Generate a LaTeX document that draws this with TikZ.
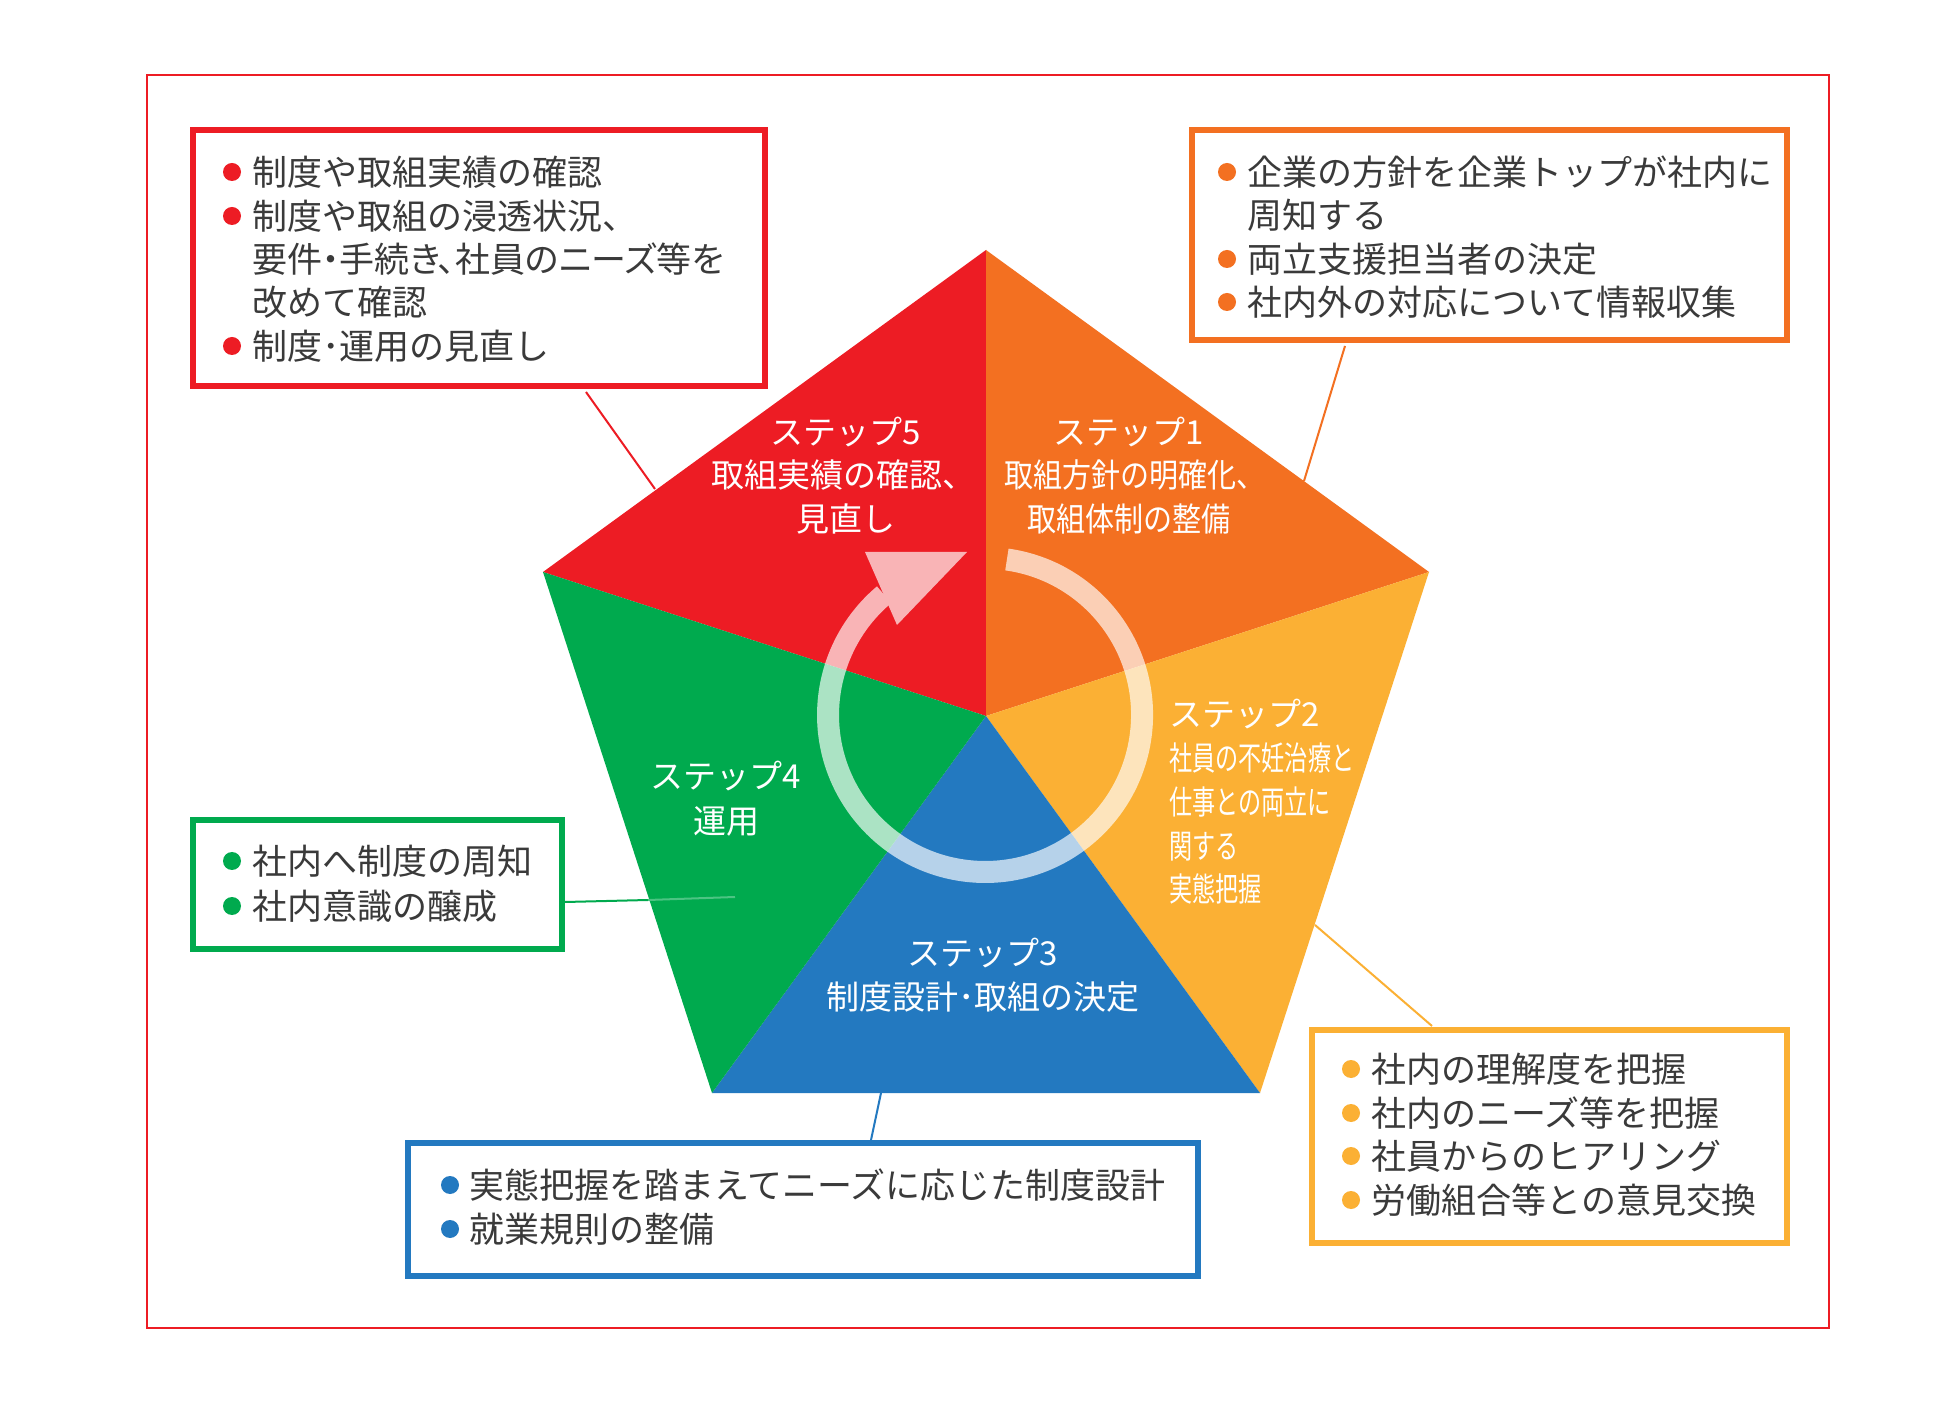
\documentclass[tikz,border=0pt]{standalone}
\usepackage{fontspec}
\newfontfamily\jpf{Noto Sans CJK JP}
\newfontfamily\jpp[RawFeature=+palt]{Noto Sans CJK JP}
\newfontfamily\jpn[FakeStretch=0.88]{Noto Sans CJK JP}
\newfontfamily\jpc[FakeStretch=0.70]{Noto Sans CJK JP}
\definecolor{cred}{HTML}{ED1C24}
\definecolor{corange}{HTML}{F37021}
\definecolor{cyellow}{HTML}{FBB034}
\definecolor{cblue}{HTML}{2379C0}
\definecolor{cgreen}{HTML}{00AA4E}
\definecolor{ctext}{HTML}{3A3A3A}
\tikzset{
  boxtxt/.style={anchor=west, inner sep=0pt, text=ctext, font=\jpf\fontsize{17.5pt}{21pt}\selectfont, text height=15.4pt, text depth=2.1pt},
  boxtxtp/.style={boxtxt, font=\jpp\fontsize{17.5pt}{21pt}\selectfont},
  steptxt/.style={inner sep=0pt, text=white, font=\jpf\fontsize{16.5pt}{20pt}\selectfont, text height=14.5pt, text depth=2pt},
  steptxtn/.style={steptxt, font=\jpn\fontsize{16.5pt}{20pt}\selectfont},
  steptxtc/.style={steptxt, anchor=west, font=\jpc\fontsize{16.5pt}{20pt}\selectfont},
  infobox/.style={draw=#1, line width=3pt, fill=white, inner sep=0pt},
  bulletdot/.style={circle, fill=#1, inner sep=0pt, minimum size=9pt},
  conn/.style={line width=1pt}
}
\begin{document}
\begin{tikzpicture}[x=0.5pt, y=-0.5pt]
\useasboundingbox (0,0) rectangle (1956,1406);
\fill[white] (0,0) rectangle (1956,1406);
% outer frame
\draw[cred, line width=1pt] (147,75) rectangle (1829,1328);

% pentagon
\coordinate (pc) at (986,716);
\coordinate (pT) at (986,250);
\coordinate (pR) at (1429,572);
\coordinate (pBR) at (1260,1093);
\coordinate (pBL) at (712,1093);
\coordinate (pL) at (543,572);
\fill[cred] (pc) -- (pL) -- (pT) -- cycle;
\fill[corange] (pc) -- (pT) -- (pR) -- cycle;
\fill[cyellow] (pc) -- (pR) -- (pBR) -- cycle;
\fill[cblue] (pc) -- (pBR) -- (pBL) -- cycle;
\fill[cgreen] (pc) -- (pBL) -- (pL) -- cycle;

% boxes
\node[infobox=cred, minimum width=286pt, minimum height=128pt] (redbox) at (479,258) {};
\node[infobox=corange, minimum width=297.5pt, minimum height=105pt] (orangebox) at (1489.5,235) {};
\node[infobox=cgreen, minimum width=184.5pt, minimum height=64.5pt] (greenbox) at (377.5,884.5) {};
\node[infobox=cblue, minimum width=395pt, minimum height=66.5pt] (bluebox) at (803,1209.5) {};
\node[infobox=cyellow, minimum width=237.5pt, minimum height=106.5pt] (yellowbox) at (1549.5,1136.5) {};

% connectors
\coordinate (redE) at (655,489);
\coordinate (orangeE) at (1304,481);
\coordinate (greenE) at (648,900);
\coordinate (greenI) at (735,897);
\coordinate (blueE) at (881,1093);
\coordinate (yellowE) at (1315,925);
\coordinate (redS) at (586,392);
\coordinate (orangeS) at (1345,346);
\coordinate (greenS) at (565,902);
\coordinate (blueS) at (871,1140);
\coordinate (yellowS) at (1432,1026);
\draw[conn, cred] (redS) -- (redE);
\draw[conn, corange] (orangeS) -- (orangeE);
\draw[conn, cgreen] (greenS) -- (greenE);
\draw[conn, cgreen!70!white] (greenE) -- (greenI);
\draw[conn, cblue] (blueS) -- (blueE);
\draw[conn, cyellow] (yellowS) -- (yellowE);

% cycle arrow
\begin{scope}[transparency group, opacity=0.67]
\draw[white, line width=11pt] (1006.9,559.5) arc[start angle=82, end angle=-230, radius=78.5pt];
\fill[white] (967,552) -- (865,552) -- (897,625) -- cycle;
\end{scope}

% step texts
\node[steptxt] (s5a) at (846,432) {ステップ5};
\node[steptxt] (s5b) at (843,475) {取組実績の確認、};
\node[steptxt] (s5c) at (846,519) {見直し};
\node[steptxt] (s1a) at (1129,432) {ステップ1};
\node[steptxtn] (s1b) at (1135,475) {取組方針の明確化、};
\node[steptxtn] (s1c) at (1129,519) {取組体制の整備};
\node[steptxt, anchor=west] (s2a) at (1169,714) {ステップ2};
\node[steptxtc] (s2b) at (1169,758) {社員の不妊治療と};
\node[steptxtc] (s2c) at (1169,802) {仕事との両立に};
\node[steptxtc] (s2d) at (1169,846) {関する};
\node[steptxtc] (s2e) at (1169,889) {実態把握};
\node[steptxt] (s3a) at (983,953) {ステップ3};
\node[steptxt] (s3b) at (983,997) {制度設計･取組の決定};
\node[steptxt] (s4a) at (726,776) {ステップ4};
\node[steptxt] (s4b) at (726,821) {運用};

% red box text
\node[bulletdot=cred] (rb1) at (232,172) {};
\node[bulletdot=cred] (rb2) at (232,216) {};
\node[bulletdot=cred] (rb3) at (232,346) {};
\node[boxtxt] (rt1) at (252,172) {制度や取組実績の確認};
\node[boxtxt] (rt2) at (252,216) {制度や取組の浸透状況、};
\node[boxtxtp] (rt3) at (252,259) {要件・手続き、社員のニーズ等を};
\node[boxtxt] (rt4) at (252,302) {改めて確認};
\node[boxtxt] (rt5) at (252,346) {制度･運用の見直し};

% orange box text
\node[bulletdot=corange] (ob1) at (1227,172) {};
\node[bulletdot=corange] (ob2) at (1227,259) {};
\node[bulletdot=corange] (ob3) at (1227,302) {};
\node[boxtxt] (ot1) at (1247,172) {企業の方針を企業トップが社内に};
\node[boxtxt] (ot2) at (1247,215) {周知する};
\node[boxtxt] (ot3) at (1247,259) {両立支援担当者の決定};
\node[boxtxt] (ot4) at (1247,302) {社内外の対応について情報収集};

% green box text
\node[bulletdot=cgreen] (gb1) at (232,861) {};
\node[bulletdot=cgreen] (gb2) at (232,906) {};
\node[boxtxt] (gt1) at (252,861) {社内へ制度の周知};
\node[boxtxt] (gt2) at (252,906) {社内意識の醸成};

% blue box text
\node[bulletdot=cblue] (bb1) at (450,1185) {};
\node[bulletdot=cblue] (bb2) at (450,1229) {};
\node[boxtxt] (bt1) at (469,1185) {実態把握を踏まえてニーズに応じた制度設計};
\node[boxtxt] (bt2) at (469,1229) {就業規則の整備};

% yellow box text
\node[bulletdot=cyellow] (yb1) at (1351,1069) {};
\node[bulletdot=cyellow] (yb2) at (1351,1113) {};
\node[bulletdot=cyellow] (yb3) at (1351,1156) {};
\node[bulletdot=cyellow] (yb4) at (1351,1200) {};
\node[boxtxt] (yt1) at (1371,1069) {社内の理解度を把握};
\node[boxtxt] (yt2) at (1371,1113) {社内のニーズ等を把握};
\node[boxtxt] (yt3) at (1371,1156) {社員からのヒアリング};
\node[boxtxt] (yt4) at (1371,1200) {労働組合等との意見交換};
\end{tikzpicture}
\end{document}
